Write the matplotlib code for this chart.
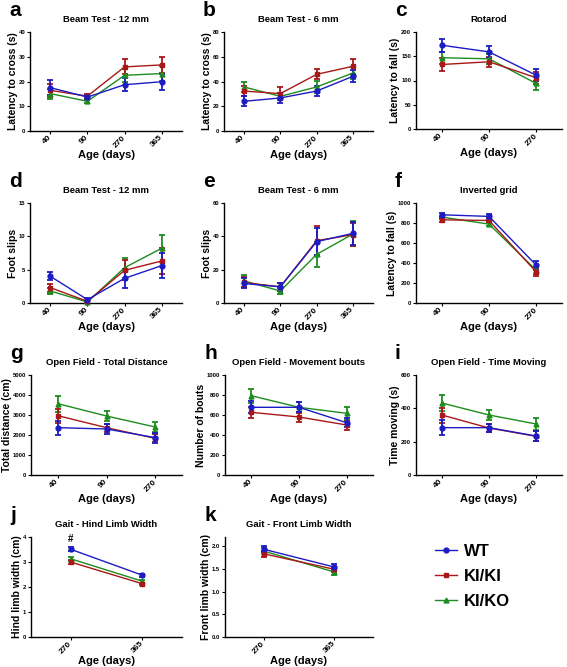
import numpy as np
import matplotlib
matplotlib.use("Agg")
import matplotlib.pyplot as plt

plt.rcParams['font.family'] = ['Liberation Sans', 'DejaVu Sans']
plt.rcParams['font.weight'] = 'bold'

groups = ["WT", "KI/KI", "KI/KO"]
colors = {"WT": "#1c1cc4", "KI/KI": "#a81818", "KI/KO": "#1e8c1e"}
markers = {"WT": "o", "KI/KI": "s", "KI/KO": "^"}

ages4 = ["40", "90", "270", "365"]
ages3 = ["40", "90", "270"]
ages2 = ["270", "365"]

# a - beam test 12 mm latency
beam12_lat = {"WT": [17.5, 13.7, 18.7, 19.9], "KI/KI": [16.4, 14.1, 25.9, 26.7], "KI/KO": [15.1, 12.0, 22.5, 23.2]}
beam12_lat_err = {"WT": [3.0, 1.0, 2.7, 3.3], "KI/KI": [2.5, 0.8, 3.0, 3.3], "KI/KO": [2.0, 0.7, 2.5, 3.0]}
# b - beam test 6 mm latency
beam6_lat = {"WT": [24.0, 26.7, 32.3, 44.2], "KI/KI": [32.3, 30.2, 45.8, 52.3], "KI/KO": [35.6, 28.0, 35.6, 46.9]}
beam6_lat_err = {"WT": [4, 4, 4, 5], "KI/KI": [4, 5, 4, 6], "KI/KO": [4, 3, 5, 5]}
# c - rotarod
rotarod = {"WT": [172.7, 159, 111], "KI/KI": [133, 138.6, 105.8], "KI/KO": [147, 144.7, 94]}
rotarod_err = {"WT": [13, 12, 13], "KI/KI": [13, 10, 12], "KI/KO": [12, 10, 14]}
# d - beam 12 mm foot slips
beam12_slips = {"WT": [4.0, 0.5, 3.7, 5.6], "KI/KI": [2.3, 0.25, 4.9, 6.3], "KI/KO": [1.8, 0.15, 5.3, 8.2]}
beam12_slips_err = {"WT": [0.6, 0.2, 1.4, 1.9], "KI/KI": [0.6, 0.1, 1.5, 2.0], "KI/KO": [0.5, 0.1, 1.5, 2.0]}
# e - beam 6 mm foot slips
beam6_slips = {"WT": [11.7, 9.7, 36.8, 41.8], "KI/KI": [12.3, 9.7, 37.4, 41.0], "KI/KO": [13.3, 7.2, 29.2, 41.4]}
beam6_slips_err = {"WT": [3, 2.5, 8, 7], "KI/KI": [3, 2.5, 8.5, 7], "KI/KO": [3.5, 2, 7.5, 7.5]}
# f - inverted grid
grid = {"WT": [882, 866, 379], "KI/KI": [832, 825, 312], "KI/KO": [859, 789, 329]}
grid_err = {"WT": [20, 25, 45], "KI/KI": [20, 20, 40], "KI/KO": [15, 20, 35]}
# g - open field total distance
of_dist = {"WT": [2367, 2300, 1867], "KI/KI": [2967, 2367, 1833], "KI/KO": [3567, 2950, 2400]}
of_dist_err = {"WT": [350, 230, 250], "KI/KI": [350, 200, 200], "KI/KO": [400, 250, 250]}
# h - open field movement bouts
of_bouts = {"WT": [677, 677, 523], "KI/KI": [627, 580, 500], "KI/KO": [793, 677, 617]}
of_bouts_err = {"WT": [60, 50, 45], "KI/KI": [55, 45, 45], "KI/KO": [70, 50, 65]}
# i - open field time moving
of_time = {"WT": [284, 284, 234], "KI/KI": [360, 282, 232], "KI/KO": [432, 360, 306]}
of_time_err = {"WT": [45, 25, 30], "KI/KI": [45, 25, 30], "KI/KO": [50, 30, 35]}
# j - hind limb width
hind = {"WT": [3.51, 2.47], "KI/KI": [3.0, 2.13], "KI/KO": [3.13, 2.23]}
hind_err = {"WT": [0.08, 0.07], "KI/KI": [0.07, 0.05], "KI/KO": [0.07, 0.05]}
# k - front limb width
front = {"WT": [1.93, 1.54], "KI/KI": [1.83, 1.49], "KI/KO": [1.89, 1.43]}
front_err = {"WT": [0.07, 0.07], "KI/KI": [0.06, 0.06], "KI/KO": [0.06, 0.06]}

W, H = 567, 667
fig = plt.figure(figsize=(W / 100, H / 100), dpi=100)


def px_axes(left, top, width, bottom):
    return fig.add_axes([left / W, 1 - bottom / H, width / W, (bottom - top) / H])


def panel(letter, rect, title, ylabel, ages, vals, errs, ylim, yticks, ytl=None):
    ax = px_axes(*rect)
    x = np.arange(len(ages))
    handles = []
    for g in ["KI/KO", "KI/KI", "WT"]:
        h = ax.errorbar(x, vals[g], yerr=errs[g], color=colors[g], marker=markers[g],
                        markersize=3.5, lw=1, elinewidth=1.3, capsize=2.2, capthick=1.3,
                        clip_on=False, zorder=3)
        handles.append(h)
    ax.set_xlim(-0.55, len(ages) - 0.45)
    ax.set_ylim(*ylim)
    ax.set_yticks(yticks)
    if ytl is not None:
        ax.set_yticklabels(ytl)
    ax.set_xticks(x)
    ax.set_xticklabels(ages, rotation=45, ha='right', va='center', rotation_mode='anchor')
    for s in ['top', 'right']:
        ax.spines[s].set_visible(False)
    for s in ['left', 'bottom']:
        ax.spines[s].set_linewidth(1.0)
    ax.tick_params(axis='y', labelsize=4.2, length=2.5, width=0.8, pad=1)
    ax.tick_params(axis='x', labelsize=6, length=2.5, width=0.8, pad=1.5)
    ax.set_title(title, fontsize=6.8, fontweight='bold', pad=7)
    ax.set_ylabel(ylabel, fontsize=7.5, fontweight='bold', labelpad=0.5)
    ax.set_xlabel("Age (days)", fontsize=8, fontweight='bold', labelpad=1)
    left, top = rect[0], rect[1]
    fig.text((left - 21) / W, 1 - (top - 16) / H, letter, fontsize=15, fontweight='bold',
             ha='left', va='baseline')
    return ax, handles


panel("a", (30, 32, 152, 131), "Beam Test - 12 mm", "Latency to cross (s)", ages4,
      beam12_lat, beam12_lat_err, (0, 40), [0, 10, 20, 30, 40])
panel("b", (224, 32, 149, 131), "Beam Test - 6 mm", "Latency to cross (s)", ages4,
      beam6_lat, beam6_lat_err, (0, 80), [0, 20, 40, 60, 80])
panel("c", (416, 32, 146, 129), "Rotarod", "Latency to fall (s)", ages3,
      rotarod, rotarod_err, (0, 200), [0, 50, 100, 150, 200])

panel("d", (30, 203, 152, 303), "Beam Test - 12 mm", "Foot slips", ages4,
      beam12_slips, beam12_slips_err, (0, 15), [0, 5, 10, 15])
panel("e", (224, 203, 149, 303), "Beam Test - 6 mm", "Foot slips", ages4,
      beam6_slips, beam6_slips_err, (0, 60), [0, 20, 40, 60])
panel("f", (416, 203, 146, 303), "Inverted grid", "Latency to fall (s)", ages3,
      grid, grid_err, (0, 1000), [0, 200, 400, 600, 800, 1000])

panel("g", (31, 375, 151, 475), "Open Field - Total Distance", "Total distance (cm)", ages3,
      of_dist, of_dist_err, (0, 5000), [0, 1000, 2000, 3000, 4000, 5000])
panel("h", (225, 375, 148, 475), "Open Field - Movement bouts", "Number of bouts", ages3,
      of_bouts, of_bouts_err, (0, 1000), [0, 200, 400, 600, 800, 1000])
panel("i", (416, 375, 146, 475), "Open Field - Time Moving", "Time moving (s)", ages3,
      of_time, of_time_err, (0, 600), [0, 200, 400, 600])

axj, _ = panel("j", (31, 537, 151, 637), "Gait - Hind Limb Width", "Hind limb width (cm)", ages2,
               hind, hind_err, (0, 4), [0, 1, 2, 3, 4])
axj.text(0, hind["WT"][0] + hind_err["WT"][0] + 0.12, "#", ha='center', va='bottom',
         fontsize=7, fontweight='bold')
axk, handles = panel("k", (225, 537, 148, 637), "Gait - Front Limb Width", "Front limb width (cm)", ages2,
                     front, front_err, (0, 2.2), [0, 0.5, 1.0, 1.5, 2.0],
                     ["0.0", "0.5", "1.0", "1.5", "2.0"])

leg_handles = [handles[2][0], handles[1][0], handles[0][0]]
fig.legend(leg_handles, groups, loc='upper left', bbox_to_anchor=(420 / W, 1 - 529 / H),
           frameon=False, prop={'size': 12, 'weight': 'bold'}, handlelength=1.3,
           handletextpad=0.45, labelspacing=0.6)

fig.savefig("out.png", dpi=100)
